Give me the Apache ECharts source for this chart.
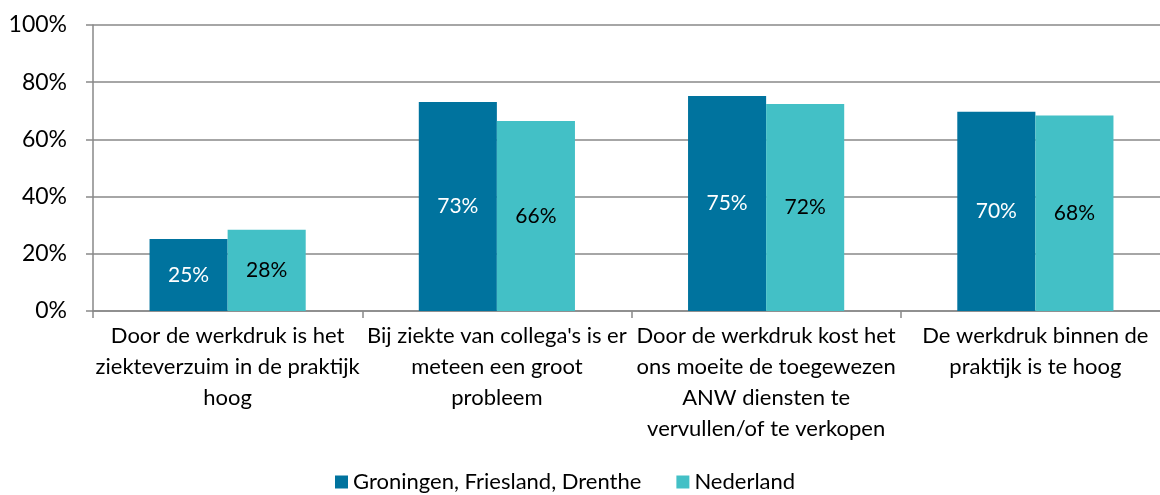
<!DOCTYPE html>
<html>
<head>
<meta charset="utf-8">
<script src="https://cdn.jsdelivr.net/npm/echarts@6/dist/echarts.min.js"></script>
<style>
  html, body { margin: 0; padding: 0; background: #fff; overflow: hidden; }
  #chart { width: 1170px; height: 495px; }
</style>
</head>
<body>
<div id="chart"></div>
<script>
const categories = [
  'Door de werkdruk is het\nziekteverzuim in de praktijk\nhoog',
  "Bij ziekte van collega's is er\nmeteen een groot\nprobleem",
  'Door de werkdruk kost het\nons moeite de toegewezen\nANW diensten te\nvervullen/of te verkopen',
  'De werkdruk binnen de\npraktijk is te hoog',
]
const seriesNames = ['Groningen, Friesland, Drenthe', 'Nederland']
const regionValues = [25.2, 73.1, 75.2, 69.7]
const nlValues = [28.4, 66.4, 72.4, 68.4]

const font = 'Lato, "Open Sans", sans-serif'
const gray = '#898989'

const chart = echarts.init(document.getElementById('chart'))

const label = (color) => ({
  show: true,
  position: 'inside',
  color: color,
  fontFamily: font,
  fontSize: 21,
  formatter: (p) => Math.round(p.value) + '%',
})

chart.setOption({
  animation: false,
  textStyle: { fontFamily: font },
  grid: { left: 93, right: 0, top: 25, bottom: 184, containLabel: false },
  legend: {
    bottom: -3,
    left: 330,
    itemWidth: 13,
    itemHeight: 13,
    itemGap: 35,
    icon: 'rect',
    textStyle: { fontSize: 22, color: '#000', fontFamily: font },
    data: seriesNames,
  },
  xAxis: {
    type: 'category',
    data: categories,
    axisLine: { lineStyle: { color: gray, width: 1.5 } },
    axisTick: { show: true, length: 7, lineStyle: { color: gray, width: 1.5 } },
    axisLabel: {
      interval: 0,
      color: '#000',
      fontSize: 22,
      lineHeight: 31,
      margin: 9,
      fontFamily: font,
    },
  },
  yAxis: {
    type: 'value',
    min: 0,
    max: 100,
    interval: 20,
    axisLine: { show: true, lineStyle: { color: gray, width: 1.5 } },
    axisTick: { show: true, length: 7, lineStyle: { color: gray, width: 1.5 } },
    splitLine: { lineStyle: { color: gray, width: 1.5 } },
    axisLabel: {
      color: '#000',
      fontSize: 23,
      margin: 26,
      fontFamily: font,
      formatter: '{value}%',
    },
  },
  series: [
    {
      name: seriesNames[0],
      type: 'bar',
      data: regionValues,
      barGap: '0%',
      barCategoryGap: '42%',
      itemStyle: { color: '#00739E' },
      label: label('#fff'),
    },
    {
      name: seriesNames[1],
      type: 'bar',
      data: nlValues,
      itemStyle: { color: '#43C0C6' },
      label: label('#000'),
    },
  ],
})
</script>
</body>
</html>
